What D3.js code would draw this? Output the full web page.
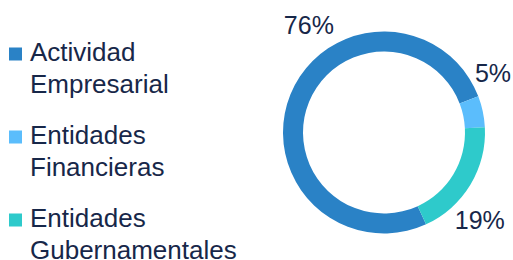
<!DOCTYPE html>
<html>
<head>
<meta charset="utf-8">
<script src="https://cdn.jsdelivr.net/npm/d3@7"></script>
<style>
  body { margin: 0; background: #fff; }
  text { font-family: "Liberation Sans", Arial, sans-serif; fill: #172749; }
</style>
</head>
<body>
<svg id="chart" width="513" height="260"></svg>
<script>
const categories = [['Actividad', 'Empresarial'], ['Entidades', 'Financieras'], ['Entidades', 'Gubernamentales']];
const values = [76, 5, 19];
const colors = ['#2a82c6', '#5bbdfc', '#2ecacb'];
// where each percentage label sits (degrees from 12 o'clock, distance from centre)
const labelAngles = [-35, 61.5, 132.5];
const labelRadius = [131, 124, 130];

const svg = d3.select('#chart');
const cx = 384, cy = 132.5;
const outerR = 101, innerR = 81;

// light blue / teal boundary sits just above 3 o'clock
const start = (87 - 360 * (values[0] + values[1]) / 100) * Math.PI / 180;
const pie = d3.pie().sort(null).startAngle(start).endAngle(start + 2 * Math.PI);
const arc = d3.arc().innerRadius(innerR).outerRadius(outerR);

const g = svg.append('g').attr('transform', `translate(${cx},${cy})`);
g.selectAll('path')
  .data(pie(values))
  .join('path')
  .attr('d', arc)
  .attr('fill', (d, i) => colors[i]);

g.selectAll('text.pct')
  .data(values)
  .join('text')
  .attr('class', 'pct')
  .attr('x', (d, i) => labelRadius[i] * Math.sin(labelAngles[i] * Math.PI / 180))
  .attr('y', (d, i) => -labelRadius[i] * Math.cos(labelAngles[i] * Math.PI / 180))
  .attr('dy', '0.36em')
  .attr('text-anchor', 'middle')
  .style('font-size', '25px')
  .text(d => d + '%');

// legend
const legendStep = 83;
const legend = svg.selectAll('g.legend')
  .data(categories)
  .join('g')
  .attr('class', 'legend')
  .attr('transform', (d, i) => `translate(9,${61 + i * legendStep})`);

legend.append('rect')
  .attr('x', 0)
  .attr('y', -13.5)
  .attr('width', 13)
  .attr('height', 13)
  .attr('fill', (d, i) => colors[i]);

legend.append('text')
  .style('font-size', '26px')
  .selectAll('tspan')
  .data(d => d)
  .join('tspan')
  .attr('x', 21)
  .attr('y', (d, i) => i * 31.5)
  .text(d => d);
</script>
</body>
</html>
